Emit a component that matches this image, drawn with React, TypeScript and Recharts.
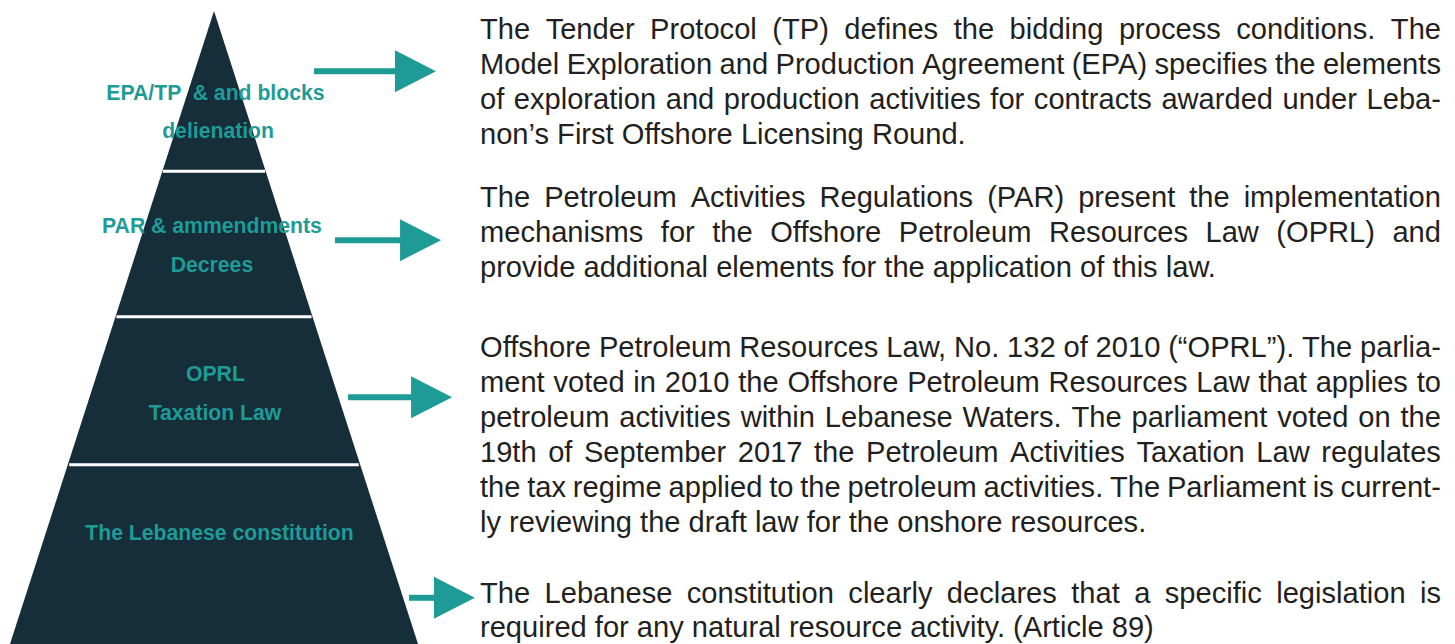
import React from "react";
import { Area, ComposedChart, ReferenceDot, ReferenceLine, XAxis, YAxis } from "recharts";

// pyramid outline: x in [-1, 1], h = share of height measured from the base
const pyramidOutline = [
  { x: -1, h: 0 },
  { x: 0, h: 1 },
  { x: 1, h: 0 },
];

// tier boundaries (share of height from base)
const tierSplits = [0.283, 0.517, 0.747];

// tier labels, top tier first
const tierLabels = [
  ["EPA/TP  & and blocks", "delienation"],
  ["PAR & ammendments", "Decrees"],
  ["OPRL", "Taxation Law"],
  ["The Lebanese constitution"],
];

// description paragraphs, one string per printed line
const paragraphs = [
  [
    "The Tender Protocol (TP) defines the bidding process conditions. The",
    "Model Exploration and Production Agreement (EPA) specifies the elements",
    "of exploration and production activities for contracts awarded under Leba-",
    "non\u2019s First Offshore Licensing Round.",
  ],
  [
    "The Petroleum Activities Regulations (PAR) present the implementation",
    "mechanisms for the Offshore Petroleum Resources Law (OPRL) and",
    "provide additional elements for the application of this law.",
  ],
  [
    "Offshore Petroleum Resources Law, No. 132 of 2010 (\u201cOPRL\u201d). The parlia-",
    "ment voted in 2010 the Offshore Petroleum Resources Law that applies to",
    "petroleum activities within Lebanese Waters. The parliament voted on the",
    "19th of September 2017 the Petroleum Activities Taxation Law regulates",
    "the tax regime applied to the petroleum activities. The Parliament is current-",
    "ly reviewing the draft law for the onshore resources.",
  ],
  [
    "The Lebanese constitution clearly declares that a specific legislation is",
    "required for any natural resource activity. (Article 89)",
  ],
];

// ---- layout (chart units) ----
const labelPos = [
  [{ x: 0.007, h: 0.859 }, { x: 0.02, h: 0.799 }],
  [{ x: -0.01, h: 0.649 }, { x: -0.01, h: 0.588 }],
  [{ x: 0.007, h: 0.4155 }, { x: 0.005, h: 0.354 }],
  [{ x: 0.027, h: 0.164 }],
];
const arrows = [
  { h: 0.905, from: 0.49, to: 0.887 },
  { h: 0.638, from: 0.593, to: 0.912 },
  { h: 0.39, from: 0.657, to: 0.966 },
  { h: 0.073, from: 0.956, to: 1.078 },
];
// paragraph first baselines (px) and line spacing
const paraLayout = [
  { top: 39.3, step: 34.9 },
  { top: 206.7, step: 35 },
  { top: 356.7, step: 35 },
  { top: 603.3, step: 33.7 },
];

const NAVY = "#162d3a";
const TEAL = "#1f9b97";
const INK = "#231f20";
const FONT = '"Liberation Sans", Arial, Helvetica, sans-serif';

const ArrowHead = (p: any) => (
  <polygon
    points={`${p.cx},${p.cy - 21} ${p.cx + 41},${p.cy} ${p.cx},${p.cy + 21}`}
    fill={TEAL}
  />
);

const labelShape = (text: string) => (p: any) => (
  <text
    x={p.cx}
    y={p.cy}
    textAnchor="middle"
    fill={TEAL}
    fontFamily={FONT}
    fontWeight="bold"
    fontSize={21.2}
    style={{ whiteSpace: "pre" }}
  >
    {text}
  </text>
);

function ParagraphLine({ text, baseline, justify }: { text: string; baseline: number; justify: boolean }) {
  const base: React.CSSProperties = {
    position: "absolute",
    left: 480,
    top: baseline - 27.2,
    width: 961,
    height: 34,
    lineHeight: "34px",
    fontSize: 29.1,
    fontFamily: FONT,
    color: INK,
    whiteSpace: "pre",
  };
  if (!justify) return <div style={base}>{text}</div>;
  return (
    <div style={{ ...base, display: "flex", justifyContent: "space-between" }}>
      {text.split(" ").map((w, i) => (
        <span key={i}>{w}</span>
      ))}
    </div>
  );
}

export default function App() {
  return (
    <div
      style={{
        position: "absolute",
        left: 0,
        top: 0,
        width: 1455,
        height: 644,
        background: "#ffffff",
        overflow: "hidden",
      }}
    >
      <ComposedChart
        width={1455}
        height={644}
        data={pyramidOutline}
        margin={{ top: 11, left: 10, right: 1037, bottom: 0 }}
      >
        <XAxis type="number" dataKey="x" domain={[-1, 1]} hide />
        <YAxis type="number" domain={[0, 1]} hide />
        <Area
          type="linear"
          dataKey="h"
          baseValue={0}
          stroke={NAVY}
          strokeWidth={0}
          fill={NAVY}
          fillOpacity={1}
          dot={false}
          activeDot={false}
          isAnimationActive={false}
        />
        {tierSplits.map((h) => (
          <ReferenceLine
            key={h}
            segment={[
              { x: -(1 - h) * 0.99, y: h },
              { x: (1 - h) * 0.99, y: h },
            ]}
            stroke="#ffffff"
            strokeWidth={3}
          />
        ))}
        {tierLabels.map((lines, i) =>
          lines.map((t, j) => (
            <ReferenceDot
              key={`${i}-${j}`}
              x={labelPos[i][j].x}
              y={labelPos[i][j].h}
              r={0}
              ifOverflow="visible"
              shape={labelShape(t)}
            />
          ))
        )}
        {arrows.map((a, i) => (
          <ReferenceLine
            key={`s${i}`}
            segment={[
              { x: a.from, y: a.h },
              { x: a.to + 0.005, y: a.h },
            ]}
            ifOverflow="visible"
            stroke={TEAL}
            strokeWidth={6}
          />
        ))}
        {arrows.map((a, i) => (
          <ReferenceDot
            key={`h${i}`}
            x={a.to}
            y={a.h}
            r={0}
            ifOverflow="visible"
            shape={ArrowHead}
          />
        ))}
      </ComposedChart>
      {paragraphs.map((lines, i) =>
        lines.map((t, j) => (
          <ParagraphLine
            key={`${i}-${j}`}
            text={t}
            baseline={paraLayout[i].top + j * paraLayout[i].step}
            justify={j < lines.length - 1}
          />
        ))
      )}
    </div>
  );
}
